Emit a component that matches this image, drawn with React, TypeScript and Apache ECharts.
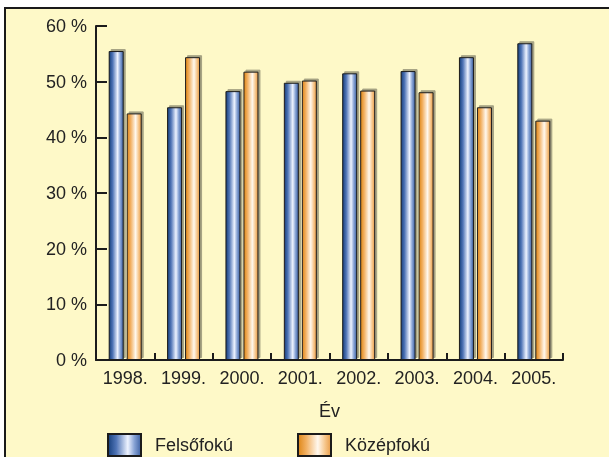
import React, { useEffect, useRef } from "react";
import * as echarts from "echarts";

const years = ["1998.", "1999.", "2000.", "2001.", "2002.", "2003.", "2004.", "2005."];
const felsofoku = [55.5, 45.4, 48.3, 49.8, 51.5, 51.9, 54.4, 56.9];
const kozepfoku = [44.3, 54.4, 51.8, 50.2, 48.4, 48.1, 45.4, 43.0];
const seriesNames = ["Felsőfokú", "Középfokú"];

const FONT = "'Liberation Sans', Arial, Helvetica, sans-serif";
const FS = 18;

const blueGrad = new echarts.graphic.LinearGradient(0, 0, 1, 0, [
  { offset: 0, color: "#163f7c" },
  { offset: 0.25, color: "#4f74b6" },
  { offset: 0.6, color: "#eef3ff" },
  { offset: 0.8, color: "#86a2d4" },
  { offset: 1, color: "#3e62a4" },
]);
const orangeGrad = new echarts.graphic.LinearGradient(0, 0, 1, 0, [
  { offset: 0, color: "#de8616" },
  { offset: 0.25, color: "#f2b062" },
  { offset: 0.6, color: "#fff8ee" },
  { offset: 0.82, color: "#f6c68b" },
  { offset: 1, color: "#e89c48" },
]);

export default function App() {
  const ref = useRef<HTMLDivElement>(null);
  useEffect(() => {
    if (!ref.current) return;
    const chart = echarts.init(ref.current, undefined, { renderer: "svg" });
    const barStyle = (c: any) => ({
      color: c,
      borderColor: "#1b1b1b",
      borderWidth: 1,
      shadowColor: "rgba(0,0,0,0.35)",
      shadowOffsetX: 2,
      shadowOffsetY: -2,
      shadowBlur: 1,
    });
    const legendText = {
      fontSize: FS,
      color: "#222",
      fontFamily: FONT,
      lineHeight: 18,
      padding: [0, 0, 0, 9],
    };
    const legendBase = {
      top: 433,
      padding: 0,
      itemWidth: 33,
      itemHeight: 22,
      icon: "rect",
      textStyle: legendText,
    };
    chart.setOption({
      animation: false,
      textStyle: { fontFamily: FONT },
      graphic: [
        {
          type: "rect",
          z: -10,
          silent: true,
          shape: { x: 5, y: 8, width: 640, height: 480 },
          style: { fill: "#fef9c8", stroke: "#1a1a1a", lineWidth: 2 },
        },
      ],
      grid: { left: 96, top: 26, right: 46, bottom: 97, containLabel: false },
      legend: [
        { ...legendBase, left: 107, data: [seriesNames[0]] },
        { ...legendBase, left: 297, data: [seriesNames[1]] },
      ],
      xAxis: {
        type: "category",
        data: years,
        name: "Év",
        nameLocation: "middle",
        nameGap: 42,
        nameTextStyle: { fontSize: FS, color: "#222", fontFamily: FONT },
        axisLine: { lineStyle: { color: "#1b1b1b", width: 2 } },
        axisTick: { show: true, inside: true, length: 7, interval: 0, lineStyle: { color: "#1b1b1b", width: 2 } },
        axisLabel: { fontSize: FS, color: "#222", margin: 9, interval: 0, fontFamily: FONT },
      },
      yAxis: {
        type: "value",
        min: 0,
        max: 60,
        interval: 10,
        splitLine: { show: false },
        axisLine: { show: true, lineStyle: { color: "#1b1b1b", width: 2 } },
        axisTick: { show: true, inside: true, length: 11, lineStyle: { color: "#1b1b1b", width: 2 } },
        axisLabel: { fontSize: FS, color: "#222", margin: 9, formatter: "{value} %", fontFamily: FONT },
      },
      series: [
        {
          name: seriesNames[0],
          type: "bar",
          data: felsofoku,
          barWidth: 15,
          barGap: "20%",
          itemStyle: barStyle(blueGrad),
        },
        {
          name: seriesNames[1],
          type: "bar",
          data: kozepfoku,
          barWidth: 15,
          barGap: "20%",
          itemStyle: barStyle(orangeGrad),
        },
      ],
    });
    return () => chart.dispose();
  }, []);
  return (
    <div
      ref={ref}
      style={{ position: "fixed", left: 0, top: 0, width: 609, height: 457 }}
    />
  );
}
